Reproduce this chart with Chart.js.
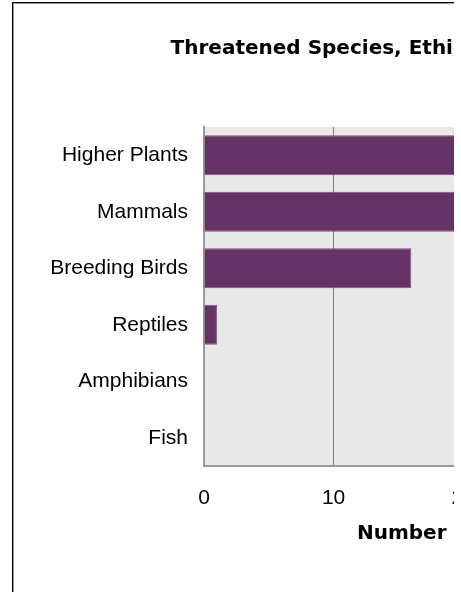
<!DOCTYPE html>
<html>
<head>
<meta charset="utf-8">
<script src="https://cdn.jsdelivr.net/npm/chart.js@4/dist/chart.umd.min.js"></script>
<style>
    html, body { margin: 0; padding: 0; background: #fff; overflow: hidden; }
    #clip { position: absolute; left: 0; top: 0; width: 454px; height: 592px; overflow: hidden; }
    #chartBox { position: absolute; left: -70px; top: 3px; }
    #frame {
        position: absolute; left: 12px; top: 2px; width: 900px; height: 900px;
        border-left: 1px solid #000; border-top: 1px solid #000;
        box-shadow: inset 1px 1px 0 #9a9a9a;
    }
</style>
</head>
<body>
<div id="clip">
    <div id="chartBox"><canvas id="chart1" width="824" height="640"></canvas></div>
    <div id="frame"></div>
</div>
<script>
// Chart data
const categories = ['Higher Plants', 'Mammals', 'Breeding Birds', 'Reptiles', 'Amphibians', 'Fish'];
const speciesCounts = [22, 35, 16, 1, 0, 0];
const xTicks = [0, 10, 20, 30, 40];

const chartTitle = 'Threatened Species, Ethiopia';
const axisTitle = 'Number of Species';

// Grey plot background
const plotBackground = {
    id: 'plotBackground',
    beforeDraw(chart) {
        const a = chart.chartArea;
        const ctx = chart.ctx;
        ctx.save();
        ctx.fillStyle = '#e8e8e8';
        ctx.fillRect(a.left, a.top, a.right - a.left, a.bottom - a.top);
        ctx.restore();
    }
};

document.addEventListener('DOMContentLoaded', function () {
    const ctx = document.getElementById('chart1');
    new Chart(ctx, {
        type: 'bar',
        data: {
            labels: categories,
            datasets: [{
                data: speciesCounts,
                backgroundColor: '#663366',
                borderColor: '#7d557d',
                borderWidth: 1,
                barPercentage: 0.71,
                categoryPercentage: 1
            }]
        },
        options: {
            indexAxis: 'y',
            responsive: false,
            animation: false,
            layout: { padding: { left: 0, right: 12, top: 0, bottom: 77 } },
            plugins: {
                legend: { display: false },
                tooltip: { enabled: false },
                title: {
                    display: true,
                    text: chartTitle,
                    color: '#000',
                    font: { family: 'DejaVu Sans', size: 20, weight: 'bold' },
                    padding: { top: 34, bottom: 66 }
                }
            },
            scales: {
                x: {
                    min: 0,
                    max: 40,
                    afterBuildTicks: function (scale) {
                        scale.ticks = xTicks.map(v => ({ value: v }));
                    },
                    afterFit: function (scale) { scale.height = 100; },
                    ticks: {
                        color: '#000',
                        padding: 20,
                        font: { family: 'Liberation Sans', size: 21 }
                    },
                    grid: { color: '#808080', lineWidth: 1, drawTicks: false },
                    border: { color: '#9a9a9a', width: 2 },
                    title: {
                        display: true,
                        text: axisTitle,
                        color: '#000',
                        font: { family: 'DejaVu Sans', size: 20, weight: 'bold' },
                        padding: { top: 0, bottom: 20 }
                    }
                },
                y: {
                    afterFit: function (scale) { scale.width = 274; },
                    ticks: {
                        color: '#000',
                        padding: 16,
                        font: { family: 'Liberation Sans', size: 21 }
                    },
                    grid: { display: false, drawTicks: false },
                    border: { color: '#9a9a9a', width: 2 }
                }
            }
        },
        plugins: [plotBackground]
    });
});
</script>
</body>
</html>
